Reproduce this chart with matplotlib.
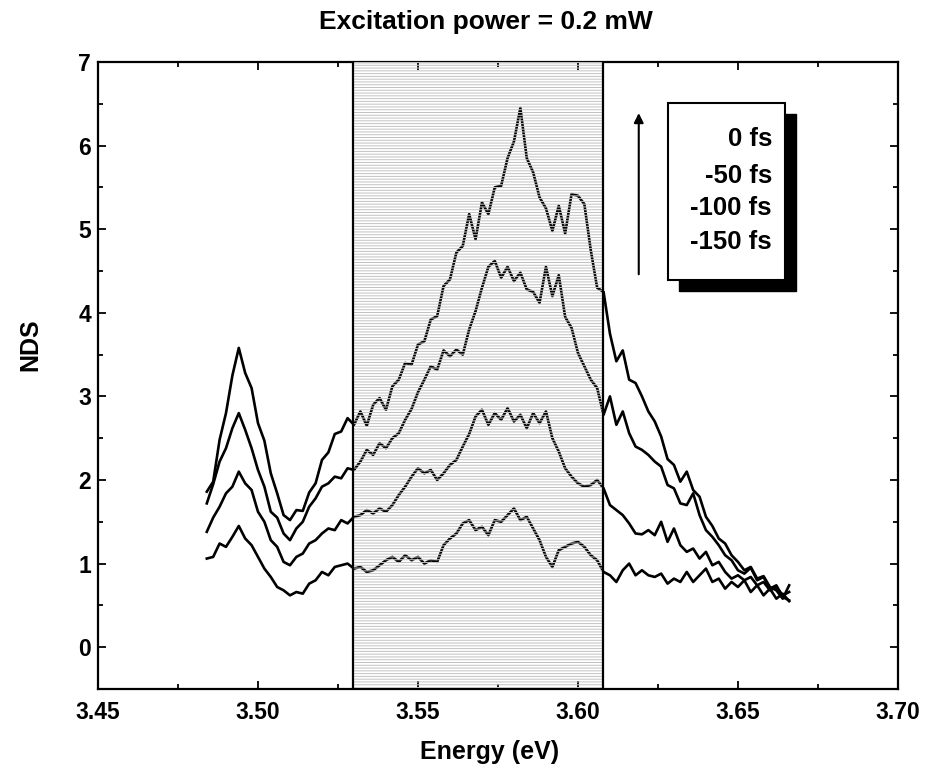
import matplotlib
matplotlib.use("Agg")
import matplotlib.pyplot as plt
from matplotlib.patches import Rectangle
from matplotlib.ticker import MultipleLocator

plt.rcParams['font.family'] = ['Liberation Sans', 'DejaVu Sans']
plt.rcParams['font.weight'] = 'bold'
plt.rcParams['hatch.linewidth'] = 0.7

# energy axis (eV)
energy = [3.484, 3.486, 3.488, 3.490, 3.492, 3.494, 3.496, 3.498, 3.500, 3.502,
          3.504, 3.506, 3.508, 3.510, 3.512, 3.514, 3.516, 3.518, 3.520, 3.522,
          3.524, 3.526, 3.528, 3.530, 3.532, 3.534, 3.536, 3.538, 3.540, 3.542,
          3.544, 3.546, 3.548, 3.550, 3.552, 3.554, 3.556, 3.558, 3.560, 3.562,
          3.564, 3.566, 3.568, 3.570, 3.572, 3.574, 3.576, 3.578, 3.580, 3.582,
          3.584, 3.586, 3.588, 3.590, 3.592, 3.594, 3.596, 3.598, 3.600, 3.602,
          3.604, 3.606, 3.608, 3.610, 3.612, 3.614, 3.616, 3.618, 3.620, 3.622,
          3.624, 3.626, 3.628, 3.630, 3.632, 3.634, 3.636, 3.638, 3.640, 3.642,
          3.644, 3.646, 3.648, 3.650, 3.652, 3.654, 3.656, 3.658, 3.660, 3.662,
          3.664, 3.666]

nds_0fs = [1.86, 1.98, 2.48, 2.80, 3.25, 3.58, 3.28, 3.10, 2.68, 2.47,
           2.08, 1.84, 1.58, 1.52, 1.64, 1.63, 1.85, 1.96, 2.24, 2.33,
           2.55, 2.58, 2.74, 2.66, 2.82, 2.65, 2.90, 2.98, 2.84, 3.12,
           3.20, 3.40, 3.38, 3.62, 3.66, 3.92, 3.96, 4.32, 4.40, 4.72,
           4.80, 5.18, 4.88, 5.32, 5.18, 5.50, 5.52, 5.85, 6.05, 6.45,
           5.85, 5.68, 5.38, 5.25, 4.98, 5.28, 4.95, 5.42, 5.40, 5.30,
           4.75, 4.30, 4.25, 3.75, 3.42, 3.55, 3.20, 3.16, 3.00, 2.82,
           2.70, 2.52, 2.25, 2.18, 1.98, 2.10, 1.88, 1.80, 1.56, 1.45,
           1.30, 1.24, 1.10, 1.02, 0.92, 0.96, 0.82, 0.85, 0.72, 0.68,
           0.58, 0.74]

nds_50fs = [1.72, 1.95, 2.22, 2.38, 2.62, 2.80, 2.60, 2.38, 2.12, 1.92,
            1.62, 1.55, 1.36, 1.28, 1.42, 1.50, 1.68, 1.78, 1.92, 1.96,
            2.04, 2.02, 2.14, 2.12, 2.22, 2.36, 2.30, 2.44, 2.38, 2.50,
            2.56, 2.72, 2.85, 3.05, 3.20, 3.36, 3.32, 3.55, 3.48, 3.56,
            3.50, 3.80, 4.02, 4.30, 4.55, 4.62, 4.42, 4.55, 4.38, 4.48,
            4.28, 4.25, 4.12, 4.55, 4.20, 4.45, 3.95, 3.82, 3.52, 3.36,
            3.20, 3.10, 2.78, 3.00, 2.66, 2.82, 2.56, 2.40, 2.36, 2.30,
            2.22, 2.16, 1.94, 1.90, 1.72, 1.70, 1.84, 1.58, 1.40, 1.32,
            1.22, 1.10, 1.04, 0.92, 0.88, 0.95, 0.80, 0.84, 0.70, 0.74,
            0.60, 0.56]

nds_100fs = [1.38, 1.55, 1.68, 1.84, 1.92, 2.10, 1.96, 1.88, 1.62, 1.50,
             1.28, 1.20, 1.02, 0.98, 1.08, 1.12, 1.24, 1.28, 1.36, 1.42,
             1.40, 1.52, 1.48, 1.56, 1.58, 1.64, 1.60, 1.66, 1.62, 1.70,
             1.82, 1.92, 2.04, 2.14, 2.08, 2.12, 2.00, 2.08, 2.18, 2.24,
             2.40, 2.55, 2.76, 2.84, 2.66, 2.80, 2.72, 2.86, 2.70, 2.78,
             2.62, 2.80, 2.68, 2.82, 2.50, 2.34, 2.14, 2.04, 1.96, 1.92,
             1.94, 2.00, 1.90, 1.70, 1.64, 1.58, 1.48, 1.36, 1.35, 1.40,
             1.34, 1.50, 1.26, 1.42, 1.22, 1.14, 1.18, 1.06, 1.14, 0.98,
             1.02, 0.90, 0.82, 0.86, 0.80, 0.84, 0.74, 0.78, 0.68, 0.72,
             0.62, 0.66]

nds_150fs = [1.06, 1.08, 1.24, 1.20, 1.32, 1.45, 1.30, 1.22, 1.08, 0.94,
             0.84, 0.72, 0.68, 0.62, 0.66, 0.64, 0.76, 0.80, 0.90, 0.86,
             0.96, 0.98, 1.00, 0.94, 0.96, 0.90, 0.92, 0.98, 1.04, 1.08,
             1.02, 1.10, 1.04, 1.08, 1.00, 1.04, 1.02, 1.22, 1.30, 1.36,
             1.48, 1.52, 1.40, 1.44, 1.34, 1.52, 1.50, 1.58, 1.66, 1.52,
             1.56, 1.42, 1.28, 1.08, 0.96, 1.16, 1.20, 1.24, 1.26, 1.20,
             1.10, 1.04, 0.90, 0.86, 0.78, 0.92, 1.00, 0.86, 0.92, 0.86,
             0.84, 0.88, 0.76, 0.82, 0.78, 0.90, 0.78, 0.86, 0.94, 0.78,
             0.82, 0.70, 0.78, 0.72, 0.80, 0.66, 0.74, 0.62, 0.70, 0.58,
             0.64, 0.55]

series = [nds_0fs, nds_50fs, nds_100fs, nds_150fs]
delay_labels = ['0 fs', '-50 fs', '-100 fs', '-150 fs']

# shaded spectral window (eV)
window = (3.5297, 3.6078)

fig = plt.figure(figsize=(9.28, 7.8), dpi=100)
ax = fig.add_axes([0.1056, 0.1167, 0.862, 0.8038])

for y in series:
    ax.plot(energy, y, color='black', lw=1.9, zorder=2)

# hatched window drawn over the curves
ax.axvspan(window[0], window[1], facecolor='none', edgecolor='#c2c2c2',
           hatch='------', linewidth=0, zorder=3)
ax.axvline(window[0], color='black', lw=1.6, zorder=4)
ax.axvline(window[1], color='black', lw=1.6, zorder=4)

ax.set_xlim(3.45, 3.70)
ax.set_ylim(-0.5, 7.0)
ax.xaxis.set_major_locator(MultipleLocator(0.05))
ax.xaxis.set_minor_locator(MultipleLocator(0.025))
ax.yaxis.set_major_locator(MultipleLocator(1))
ax.yaxis.set_minor_locator(MultipleLocator(0.5))
ax.xaxis.set_major_formatter(plt.FormatStrFormatter('%.2f'))
ax.tick_params(which='both', direction='in', top=True, right=True, width=1.3)
ax.tick_params(which='major', length=6)
ax.tick_params(which='minor', length=3.5)
ax.tick_params(axis='x', labelsize=16.5, pad=9)
ax.tick_params(axis='y', labelsize=16.5, pad=5)
for lab in ax.get_xticklabels() + ax.get_yticklabels():
    lab.set_fontweight('bold')
for sp in ax.spines.values():
    sp.set_linewidth(1.6)

fig.text(486 / 928, 1 - 22 / 780, 'Excitation power = 0.2 mW', ha='center',
         va='center', fontsize=19, fontweight='bold')
fig.text(490 / 928, 1 - 752 / 780, 'Energy (eV)', ha='center', va='center',
         fontsize=18, fontweight='bold')
fig.text(30 / 928, 1 - 345 / 780, 'NDS', ha='center', va='center',
         rotation=90, fontsize=18, fontweight='bold')

# legend box with shadow
bx0, by0, bw, bh = 0.7125, 0.652, 0.1465, 0.283
ax.add_patch(Rectangle((bx0 + 0.0138, by0 - 0.0175), bw, bh, transform=ax.transAxes,
                       facecolor='black', edgecolor='black', zorder=5, clip_on=False))
ax.add_patch(Rectangle((bx0, by0), bw, bh, transform=ax.transAxes,
                       facecolor='white', edgecolor='black', lw=1.5, zorder=6,
                       clip_on=False))
for lab, ypos in zip(delay_labels, [0.877, 0.818, 0.767, 0.713]):
    ax.text(0.8425, ypos, lab, transform=ax.transAxes, ha='right', va='center',
            fontsize=18.5, fontweight='bold', zorder=7)

ax.annotate('', xy=(0.676, 0.923), xytext=(0.676, 0.657), xycoords='axes fraction',
            arrowprops=dict(arrowstyle='-|>', color='black', lw=1.5,
                            mutation_scale=14))

fig.savefig('out.png', dpi=100)
